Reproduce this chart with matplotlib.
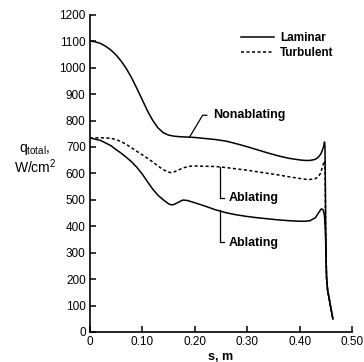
import matplotlib
matplotlib.use("Agg")
import matplotlib.pyplot as plt

plt.rcParams['font.family'] = ['Liberation Sans', 'DejaVu Sans']
plt.rcParams['mathtext.default'] = 'regular'

# laminar, nonablating
s_lam_non = [0.0, 0.01, 0.02, 0.03, 0.04, 0.05, 0.06, 0.07, 0.08, 0.09, 0.10,
             0.11, 0.12, 0.13, 0.14, 0.15, 0.16, 0.17, 0.18, 0.20, 0.22, 0.24,
             0.26, 0.28, 0.30, 0.32, 0.34, 0.36, 0.38, 0.40, 0.41, 0.42, 0.43,
             0.435, 0.44, 0.443, 0.446, 0.4476, 0.4485, 0.4492, 0.4498, 0.4505,
             0.4515, 0.4535, 0.457, 0.460, 0.4635]
q_lam_non = [1101, 1098, 1092, 1081, 1067, 1048, 1024, 995, 960, 920, 878,
             836, 800, 772, 754, 745, 741, 739, 738, 736, 732, 728,
             722, 712, 701, 689, 677, 666, 657, 651, 649, 649, 653,
             660, 672, 685, 703, 719, 700, 560, 400, 290,
             205, 158, 120, 87, 50]

# turbulent, ablating
s_turb_abl = [0.0, 0.02, 0.04, 0.05, 0.06, 0.07, 0.08, 0.09, 0.10, 0.11, 0.12,
              0.13, 0.14, 0.15, 0.155, 0.16, 0.17, 0.18, 0.19, 0.20, 0.22, 0.24,
              0.26, 0.28, 0.30, 0.32, 0.34, 0.36, 0.38, 0.40, 0.41, 0.42, 0.43,
              0.435, 0.44, 0.443, 0.446, 0.448, 0.4488, 0.4495, 0.4505,
              0.4515, 0.4535, 0.457, 0.460, 0.4635]
q_turb_abl = [734, 735, 733, 728, 720, 709, 696, 683, 670, 657, 643,
              628, 614, 605, 603, 605, 614, 622, 627, 628, 627, 626,
              622, 617, 612, 606, 600, 594, 587, 581, 578, 577, 580,
              586, 600, 620, 640, 648, 600, 420, 290,
              205, 158, 120, 87, 50]

# laminar, ablating
s_lam_abl = [0.0, 0.02, 0.04, 0.05, 0.06, 0.07, 0.08, 0.09, 0.10, 0.11, 0.12,
             0.13, 0.14, 0.15, 0.155, 0.16, 0.17, 0.177, 0.185, 0.19, 0.20, 0.22,
             0.24, 0.26, 0.28, 0.30, 0.32, 0.34, 0.36, 0.38, 0.40, 0.41, 0.42,
             0.43, 0.436, 0.44, 0.442, 0.445, 0.4475, 0.449, 0.4498, 0.4505,
             0.4515, 0.4535, 0.457, 0.460, 0.4635]
q_lam_abl = [734, 725, 705, 690, 676, 660, 643, 622, 597, 568, 540,
             517, 500, 485, 481, 482, 492, 499, 498, 495, 489, 476,
             462, 451, 443, 437, 432, 428, 424, 421, 419, 419, 421,
             432, 450, 462, 466, 462, 440, 390, 340, 285,
             205, 158, 120, 87, 50]

fig = plt.figure(figsize=(3.64, 3.62), dpi=100)
ax = fig.add_axes([0.247, 0.083, 0.72, 0.876])

ax.plot(s_lam_non, q_lam_non, color='black', lw=1.1, label='Laminar')
ax.plot(s_turb_abl, q_turb_abl, color='black', lw=1.1, ls=(0, (2, 1.6)), label='Turbulent')
ax.plot(s_lam_abl, q_lam_abl, color='black', lw=1.1)

ax.set_xlim(0, 0.5)
ax.set_ylim(0, 1200)
ax.set_xticks([0, 0.1, 0.2, 0.3, 0.4, 0.5])
ax.set_xticklabels(['0', '0.10', '0.20', '0.30', '0.40', '0.50'])
ax.set_yticks(range(0, 1201, 100))
ax.spines['top'].set_visible(False)
ax.spines['right'].set_visible(False)
for sp in ('left', 'bottom'):
    ax.spines[sp].set_linewidth(1.2)
ax.tick_params(direction='in', length=4, width=1.1, labelsize=8.5, pad=3)

ax.set_xlabel('s, m', fontsize=9, fontweight='bold', labelpad=2)
fig.text(0.096, 0.586, '$q_{total}$,', fontsize=10, ha='center', va='center')
fig.text(0.096, 0.539, 'W/cm$^2$', fontsize=10, ha='center', va='center')

# legend
ax.legend(loc='upper right', bbox_to_anchor=(0.97, 0.98), frameon=False,
          handlelength=2.8, handletextpad=0.5, labelspacing=0.3,
          prop={'weight': 'bold', 'size': 8.5})

# callouts
ax.plot([0.19, 0.215, 0.223], [737, 820, 820], color='black', lw=0.9)
ax.text(0.235, 820, 'Nonablating', fontsize=9, fontweight='bold', va='center')
ax.plot([0.248, 0.248, 0.255], [626, 508, 508], color='black', lw=0.9)
ax.text(0.264, 508, 'Ablating', fontsize=9, fontweight='bold', va='center')
ax.plot([0.248, 0.248, 0.255], [462, 340, 340], color='black', lw=0.9)
ax.text(0.264, 338, 'Ablating', fontsize=9, fontweight='bold', va='center')

fig.savefig('out.png', dpi=100)
